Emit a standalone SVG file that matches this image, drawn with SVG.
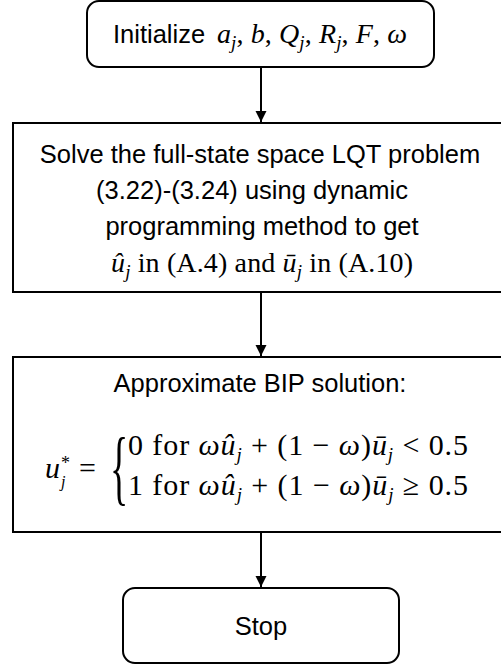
<svg xmlns="http://www.w3.org/2000/svg" width="501" height="667" viewBox="0 0 501 667">
  <style>
    .box { fill: #ffffff; stroke: #000000; stroke-width: 2; }
    .edge { stroke: #000000; stroke-width: 2; fill: none; }
    .txt { font-family: "Liberation Sans", Arial, sans-serif; font-size: 25.5px; fill: #000000; }
    .m { font-family: "Liberation Serif", "Times New Roman", serif; font-size: 28px; fill: #000000; }
    .i { font-style: italic; }
    .sub { font-size: 19px; font-style: italic; }
  </style>
  <defs>
    <marker id="arrow" viewBox="0 0 10 10" refX="10" refY="5" markerWidth="5.5" markerHeight="6" markerUnits="strokeWidth" orient="auto">
      <path d="M0,0 L10,5 L0,10 Z" fill="#000000"/>
    </marker>
  </defs>

  <rect width="501" height="667" fill="#ffffff"/>

  <!-- connectors -->
  <g id="connectors">
    <line class="edge" x1="261" y1="67" x2="261" y2="122" marker-end="url(#arrow)"/>
    <line class="edge" x1="261" y1="292" x2="261" y2="356" marker-end="url(#arrow)"/>
    <line class="edge" x1="261" y1="532" x2="261" y2="587" marker-end="url(#arrow)"/>
  </g>

  <!-- start node -->
  <g id="init">
    <rect class="box" x="87" y="1" width="347" height="66" rx="12" ry="12"/>
    <text class="txt" x="113" y="43">Initialize</text>
    <text class="m" x="217" y="43" textLength="190" lengthAdjust="spacing"><tspan class="i">a</tspan><tspan class="sub" dy="6">j</tspan><tspan dy="-6">, </tspan><tspan class="i">b</tspan>, <tspan class="i">Q</tspan><tspan class="sub" dy="6">j</tspan><tspan dy="-6">, </tspan><tspan class="i">R</tspan><tspan class="sub" dy="6">j</tspan><tspan dy="-6">, </tspan><tspan class="i">F</tspan>, <tspan class="i">ω</tspan></text>
  </g>

  <!-- LQT solve step -->
  <g id="solve">
    <rect class="box" x="13" y="123" width="496" height="169"/>
    <text class="txt" x="260" y="163" text-anchor="middle">Solve the full-state space LQT problem</text>
    <text class="txt" x="252" y="199" text-anchor="middle">(3.22)-(3.24) using dynamic</text>
    <text class="txt" x="262" y="235" text-anchor="middle">programming method to get</text>
    <text class="m" x="111" y="272" textLength="302" lengthAdjust="spacing"><tspan class="i">û</tspan><tspan class="sub" dy="6">j</tspan><tspan dy="-6"> in (A.4) and </tspan><tspan class="i">ū</tspan><tspan class="sub" dy="6">j</tspan><tspan dy="-6"> in (A.10)</tspan></text>
  </g>

  <!-- BIP approximation step -->
  <g id="approx">
    <rect class="box" x="13" y="357" width="496" height="175"/>
    <text class="txt" x="260" y="392" text-anchor="middle">Approximate BIP solution:</text>
    <text class="m i" x="45" y="478" style="font-size:30px">u</text>
    <text class="sub" x="61" y="487" style="font-size:16px">j</text>
    <text class="m" x="61" y="469" style="font-size:18px">*</text>
    <text class="m" x="79" y="478" style="font-size:30px">=</text>
    <text class="m" x="0" y="0" transform="translate(110,495) scale(1,2.15)" style="font-size:38px">{</text>
    <text class="m" x="128" y="455" textLength="340" lengthAdjust="spacing" style="font-size:30px">0 for <tspan class="i">ωû</tspan><tspan class="sub" dy="6">j</tspan><tspan dy="-6"> + (1 − </tspan><tspan class="i">ω</tspan>)<tspan class="i">ū</tspan><tspan class="sub" dy="6">j</tspan><tspan dy="-6"> &lt; 0.5</tspan></text>
    <text class="m" x="128" y="495" textLength="340" lengthAdjust="spacing" style="font-size:30px">1 for <tspan class="i">ωû</tspan><tspan class="sub" dy="6">j</tspan><tspan dy="-6"> + (1 − </tspan><tspan class="i">ω</tspan>)<tspan class="i">ū</tspan><tspan class="sub" dy="6">j</tspan><tspan dy="-6"> ≥ 0.5</tspan></text>
  </g>

  <!-- end node -->
  <g id="stop">
    <rect class="box" x="123" y="588" width="276" height="75" rx="12" ry="12"/>
    <text class="txt" x="261" y="635" text-anchor="middle">Stop</text>
  </g>
</svg>
